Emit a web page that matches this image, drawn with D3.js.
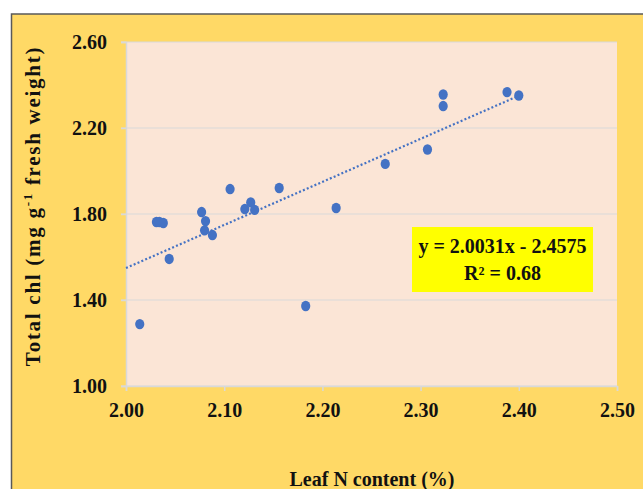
<!DOCTYPE html>
<html>
<head>
<meta charset="utf-8">
<script src="https://cdn.jsdelivr.net/npm/d3@7"></script>
<style>
  body { margin: 0; background: #fff; }
  svg { display: block; }
</style>
</head>
<body>
<svg id="chart" width="643" height="489"></svg>
<script>
// leaf N content (%) vs total chlorophyll
var leafN = [2.014, 2.031, 2.034, 2.038, 2.044, 2.077, 2.081, 2.080, 2.088, 2.106,
             2.121, 2.127, 2.131, 2.156, 2.214, 2.183, 2.264, 2.307, 2.323, 2.323,
             2.388, 2.400];
var totalChl = [1.288, 1.763, 1.763, 1.758, 1.591, 1.809, 1.767, 1.724, 1.702, 1.916,
                1.823, 1.854, 1.819, 1.921, 1.828, 1.372, 2.033, 2.100, 2.356, 2.302,
                2.367, 2.351];
var xTicks = [2.00, 2.10, 2.20, 2.30, 2.40, 2.50];
var yTicks = [1.00, 1.40, 1.80, 2.20, 2.60];
var slope = 2.0031, intercept = -2.4575;
var eqLines = ["y = 2.0031x - 2.4575", "R² = 0.68"];

var svg = d3.select("#chart");
var font = "'Liberation Serif', 'Times New Roman', serif";

var margins = { top: 42, right: 26, bottom: 103, left: 126 };
var width = 643 - margins.left - margins.right;
var height = 489 - margins.top - margins.bottom;

// outer frame
svg.append("rect")
    .attr("x", 11.5).attr("y", 14)
    .attr("width", 700).attr("height", 600)
    .attr("fill", "#FFD966")
    .attr("stroke", "#595959")
    .attr("stroke-width", 1.5);

var g = svg.append("g")
    .attr("transform", "translate(" + margins.left + "," + margins.top + ")");

var x = d3.scaleLinear().domain([2.0, 2.5]).range([0, width]);
var y = d3.scaleLinear().domain([1.0, 2.6]).range([height, 0]);

g.append("rect")
    .attr("width", width).attr("height", height)
    .attr("fill", "#FBE5D6");

// gridlines
g.selectAll(".grid").data(yTicks).enter().append("line")
    .attr("class", "grid")
    .attr("x1", -5).attr("x2", width)
    .attr("y1", d => y(d)).attr("y2", d => y(d))
    .attr("stroke", "#D9D9D9").attr("stroke-width", 1);

// axes
var yAxis = g.append("g")
    .call(d3.axisLeft(y).tickValues(yTicks).tickFormat(d3.format(".2f")).tickSize(5).tickPadding(14));
var xAxis = g.append("g")
    .attr("transform", "translate(0," + height + ")")
    .call(d3.axisBottom(x).tickValues(xTicks).tickFormat(d3.format(".2f")).tickSize(5).tickPadding(14));

[xAxis, yAxis].forEach(function(a) {
    a.select(".domain").attr("stroke", "#D9D9D9").attr("stroke-width", 1.5);
    a.selectAll(".tick line").attr("stroke", "#D9D9D9").attr("stroke-width", 1.5);
    a.selectAll("text")
        .style("font-family", font)
        .style("font-size", "20px")
        .style("font-weight", "700")
        .attr("fill", "#111");
});
xAxis.selectAll("text").attr("dy", "0.6em");

// trend line
var xr = d3.extent(leafN);
g.append("line")
    .attr("x1", x(2.0)).attr("y1", y(slope * 2.0 + intercept))
    .attr("x2", x(xr[1])).attr("y2", y(slope * xr[1] + intercept))
    .attr("stroke", "#4472C4")
    .attr("stroke-width", 2.2)
    .attr("stroke-dasharray", "2,2.2");

// points
g.selectAll(".pt").data(leafN).enter().append("ellipse")
    .attr("class", "pt")
    .attr("cx", d => x(d))
    .attr("cy", (d, i) => y(totalChl[i]))
    .attr("rx", 4.6).attr("ry", 5.2)
    .attr("fill", "#4472C4");

// equation box
var eq = g.append("g");
eq.append("rect")
    .attr("x", 286).attr("y", 185)
    .attr("width", 181).attr("height", 65)
    .attr("fill", "#FFFF00");
eq.selectAll("text").data(eqLines).enter().append("text")
    .attr("x", 286 + 181 / 2)
    .attr("y", (d, i) => 211 + i * 27)
    .attr("text-anchor", "middle")
    .style("font-family", font)
    .style("font-size", "20px")
    .style("font-weight", "700")
    .attr("fill", "#111")
    .text(d => d);

// axis titles
var yTitle = svg.append("text")
    .attr("transform", "translate(40,206) rotate(-90)")
    .attr("text-anchor", "middle")
    .style("font-family", font)
    .style("font-size", "21px")
    .style("font-weight", "700")
    .attr("fill", "#111")
    .html("Total  chl (mg g<tspan dy='-8' font-size='13px'>-1</tspan><tspan dy='8'> fresh weight)</tspan>");
// stretch to the span seen in the reference (~322px)
var len = yTitle.node().getComputedTextLength();
var nChars = yTitle.text().length;
yTitle.style("letter-spacing", ((322 - len) / nChars) + "px");

svg.append("text")
    .attr("x", 372).attr("y", 486)
    .attr("text-anchor", "middle")
    .style("font-family", font)
    .style("font-size", "20px")
    .style("font-weight", "700")
    .attr("fill", "#111")
    .text("Leaf N content (%)");
</script>
</body>
</html>
